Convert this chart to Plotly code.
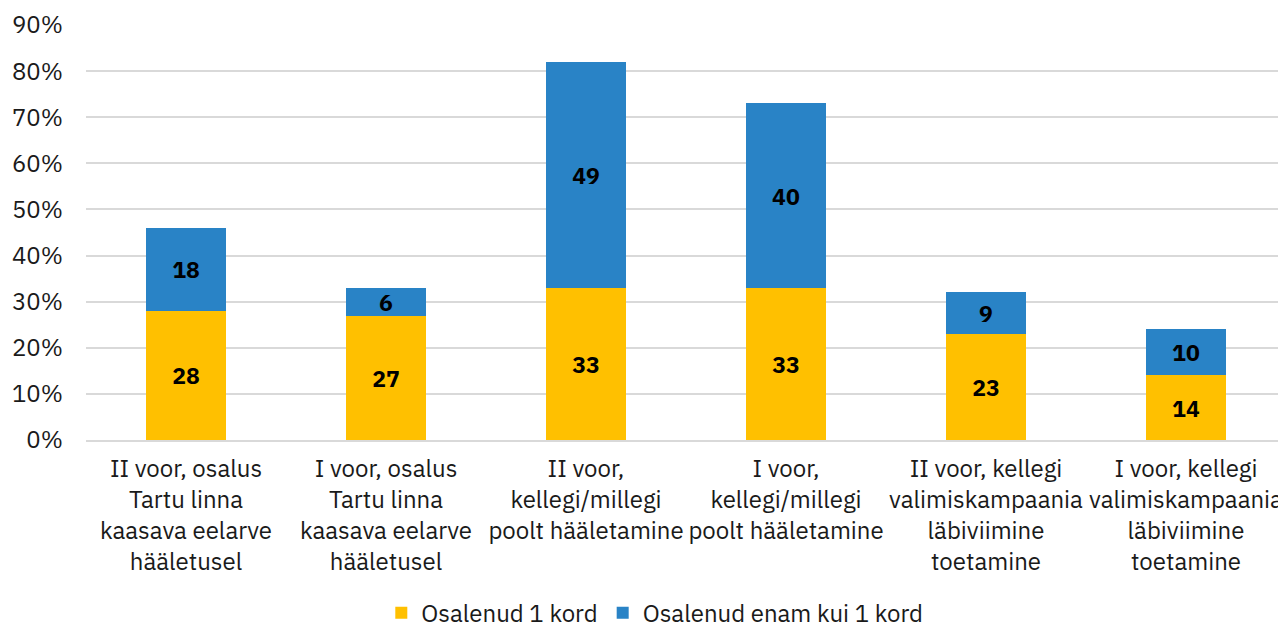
import plotly.graph_objects as go

categories = [
    "II voor, osalus<br>Tartu linna<br>kaasava eelarve<br>hääletusel",
    "I voor, osalus<br>Tartu linna<br>kaasava eelarve<br>hääletusel",
    "II voor,<br>kellegi/millegi<br>poolt hääletamine",
    "I voor,<br>kellegi/millegi<br>poolt hääletamine",
    "II voor, kellegi<br>valimiskampaania<br>läbiviimine<br>toetamine",
    "I voor, kellegi<br>valimiskampaania<br>läbiviimine<br>toetamine",
]
once = [28, 27, 33, 33, 23, 14]
more = [18, 6, 49, 40, 9, 10]
series_names = ["Osalenud 1 kord", "Osalenud enam kui 1 kord"]
y_ticks = [0, 10, 20, 30, 40, 50, 60, 70, 80, 90]

FONT = "IBM Plex Sans, Noto Sans, Open Sans, sans-serif"
x = list(range(len(categories)))

label_font = dict(family=FONT, size=23, color="black", weight="bold")

fig = go.Figure()
fig.add_trace(go.Bar(
    x=x, y=once, name=series_names[0], marker=dict(color="#FFC000", line=dict(width=0)),
    text=[str(v) for v in once], textposition="inside", insidetextanchor="middle",
    textangle=0, constraintext="none", textfont=label_font, width=0.4,
))
fig.add_trace(go.Bar(
    x=x, y=more, name=series_names[1], marker=dict(color="#2983C6", line=dict(width=0)),
    text=[str(v) for v in more], textposition="inside", insidetextanchor="middle",
    textangle=0, constraintext="none", textfont=label_font, width=0.4,
))
fig.update_layout(
    barmode="stack",
    width=1278, height=623,
    margin=dict(l=78, r=0, t=17, b=191, autoexpand=False),
    plot_bgcolor="white", paper_bgcolor="white",
    font=dict(family=FONT, size=24, color="#1a1a1a"),
    uniformtext=dict(mode=False),
    legend=dict(orientation="h", x=0.474, xanchor="center", y=-0.417, yanchor="middle",
                font=dict(size=24), traceorder="normal", itemwidth=30),
    xaxis=dict(tickmode="array", tickvals=x, ticktext=categories, range=[-0.5, 5.5],
               showgrid=False, showline=True, linecolor="#d9d9d9", linewidth=2,
               ticks="", tickfont=dict(size=24), ticklabelstandoff=6, automargin=False),
    yaxis=dict(range=[0, 90], tickvals=y_ticks, ticktext=[f"{v}%" for v in y_ticks],
               showgrid=True, gridcolor="#d9d9d9", gridwidth=2, zeroline=False,
               ticks="", tickfont=dict(size=24), ticklabelstandoff=22, automargin=False),
)
fig.write_html("out.html")
